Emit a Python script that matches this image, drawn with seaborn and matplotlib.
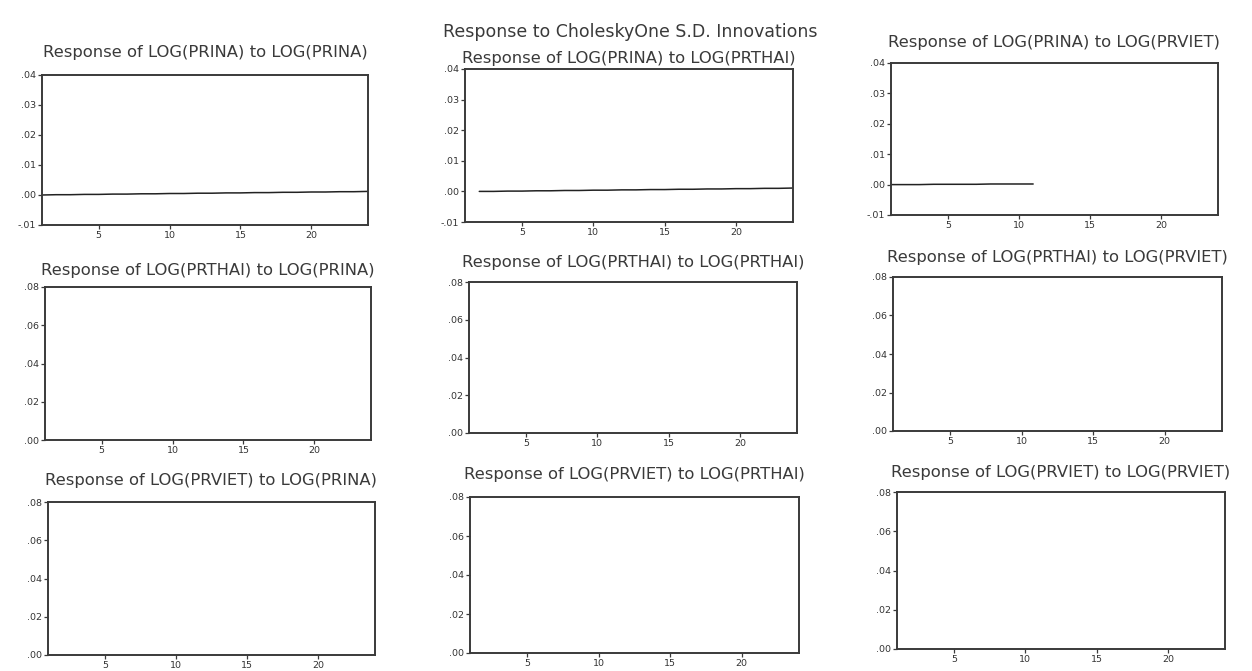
import matplotlib
matplotlib.use("Agg")
import matplotlib.pyplot as plt
from matplotlib.ticker import FuncFormatter
import numpy as np
import pandas as pd
import seaborn as sns

sns.set_style("white")
plt.rcParams["font.family"] = ["DejaVu Sans"]

# Impulse-response horizon and responses (Cholesky one S.D. shocks)
periods = list(range(1, 25))

resp_prina_prina = [0.0000, 0.0001, 0.0001, 0.0002, 0.0002, 0.0003, 0.0003, 0.0004,
                    0.0004, 0.0005, 0.0005, 0.0006, 0.0006, 0.0007, 0.0007, 0.0008,
                    0.0008, 0.0009, 0.0009, 0.0010, 0.0010, 0.0011, 0.0011, 0.0012]
resp_prina_prthai = [None, 0.0000, 0.0000, 0.0001, 0.0001, 0.0002, 0.0002, 0.0003,
                     0.0003, 0.0004, 0.0004, 0.0005, 0.0005, 0.0006, 0.0006, 0.0007,
                     0.0007, 0.0008, 0.0008, 0.0009, 0.0009, 0.0010, 0.0010, 0.0011]
resp_prina_prviet = [0.0000, 0.0000, 0.0000, 0.0001, 0.0001, 0.0001, 0.0001, 0.0002,
                     0.0002, 0.0002, 0.0002] + [None] * 13
resp_empty = [None] * 24

titles = [
    "Response of LOG(PRINA) to LOG(PRINA)",
    "Response of LOG(PRINA) to LOG(PRTHAI)",
    "Response of LOG(PRINA) to LOG(PRVIET)",
    "Response of LOG(PRTHAI) to LOG(PRINA)",
    "Response of LOG(PRTHAI) to LOG(PRTHAI)",
    "Response of LOG(PRTHAI) to LOG(PRVIET)",
    "Response of LOG(PRVIET) to LOG(PRINA)",
    "Response of LOG(PRVIET) to LOG(PRTHAI)",
    "Response of LOG(PRVIET) to LOG(PRVIET)",
]
responses = [resp_prina_prina, resp_prina_prthai, resp_prina_prviet,
             resp_empty, resp_empty, resp_empty,
             resp_empty, resp_empty, resp_empty]

top_row_ticks = [-0.01, 0.00, 0.01, 0.02, 0.03, 0.04]
lower_row_ticks = [0.00, 0.02, 0.04, 0.06, 0.08]
x_ticks = [5, 10, 15, 20]

W, H = 1252, 671
fig = plt.figure(figsize=(W / 100, H / 100), dpi=100)

# panel boxes in pixels: left, right, top, bottom, title y
boxes = [
    (42, 368, 75, 225, 53), (465, 793, 69, 222, 58), (891, 1218, 63, 215, 43),
    (45, 371, 287, 440, 270), (469, 797, 282, 433, 262), (893, 1222, 277, 431, 257),
    (48, 375, 502, 655, 480), (470, 799, 497, 653, 475), (897, 1225, 492, 649, 472),
]

def fmt(v, _pos):
    s = f"{v:.2f}"
    return s.replace("0.", ".", 1)

edge = "#3a3a3a"
for i, (l, r, t, b, ty) in enumerate(boxes):
    ax = fig.add_axes([l / W, 1 - b / H, (r - l) / W, (b - t) / H])
    df = pd.DataFrame({"period": periods, "response": responses[i]}).astype(float)
    if df["response"].notna().any():
        sns.lineplot(data=df, x="period", y="response", ax=ax, color="#222222",
                     linewidth=1.1)
    ax.set_xlim(1, 24)
    if i < 3:
        ax.set_ylim(-0.01, 0.04)
        ax.set_yticks(top_row_ticks)
    else:
        ax.set_ylim(0.0, 0.08)
        ax.set_yticks(lower_row_ticks)
    ax.set_xticks(x_ticks)
    ax.yaxis.set_major_formatter(FuncFormatter(fmt))
    ax.set_xlabel("")
    ax.set_ylabel("")
    for sp in ax.spines.values():
        sp.set_color(edge)
        sp.set_linewidth(1.4)
    ax.tick_params(axis="both", direction="out", length=3, width=0.9, color=edge,
                   labelsize=6.8, labelcolor="#333333", pad=1.5, left=True, bottom=True)
    cx = (l + r) / 2 / W
    fig.text(cx, 1 - ty / H, titles[i], ha="center", va="center",
             fontsize=11.8, color="#3a3a3a")

fig.text(630 / W, 1 - 32 / H, "Response to CholeskyOne S.D. Innovations",
         ha="center", va="center", fontsize=12.5, color="#3a3a3a")

fig.savefig("out.png", dpi=100, facecolor="white")
